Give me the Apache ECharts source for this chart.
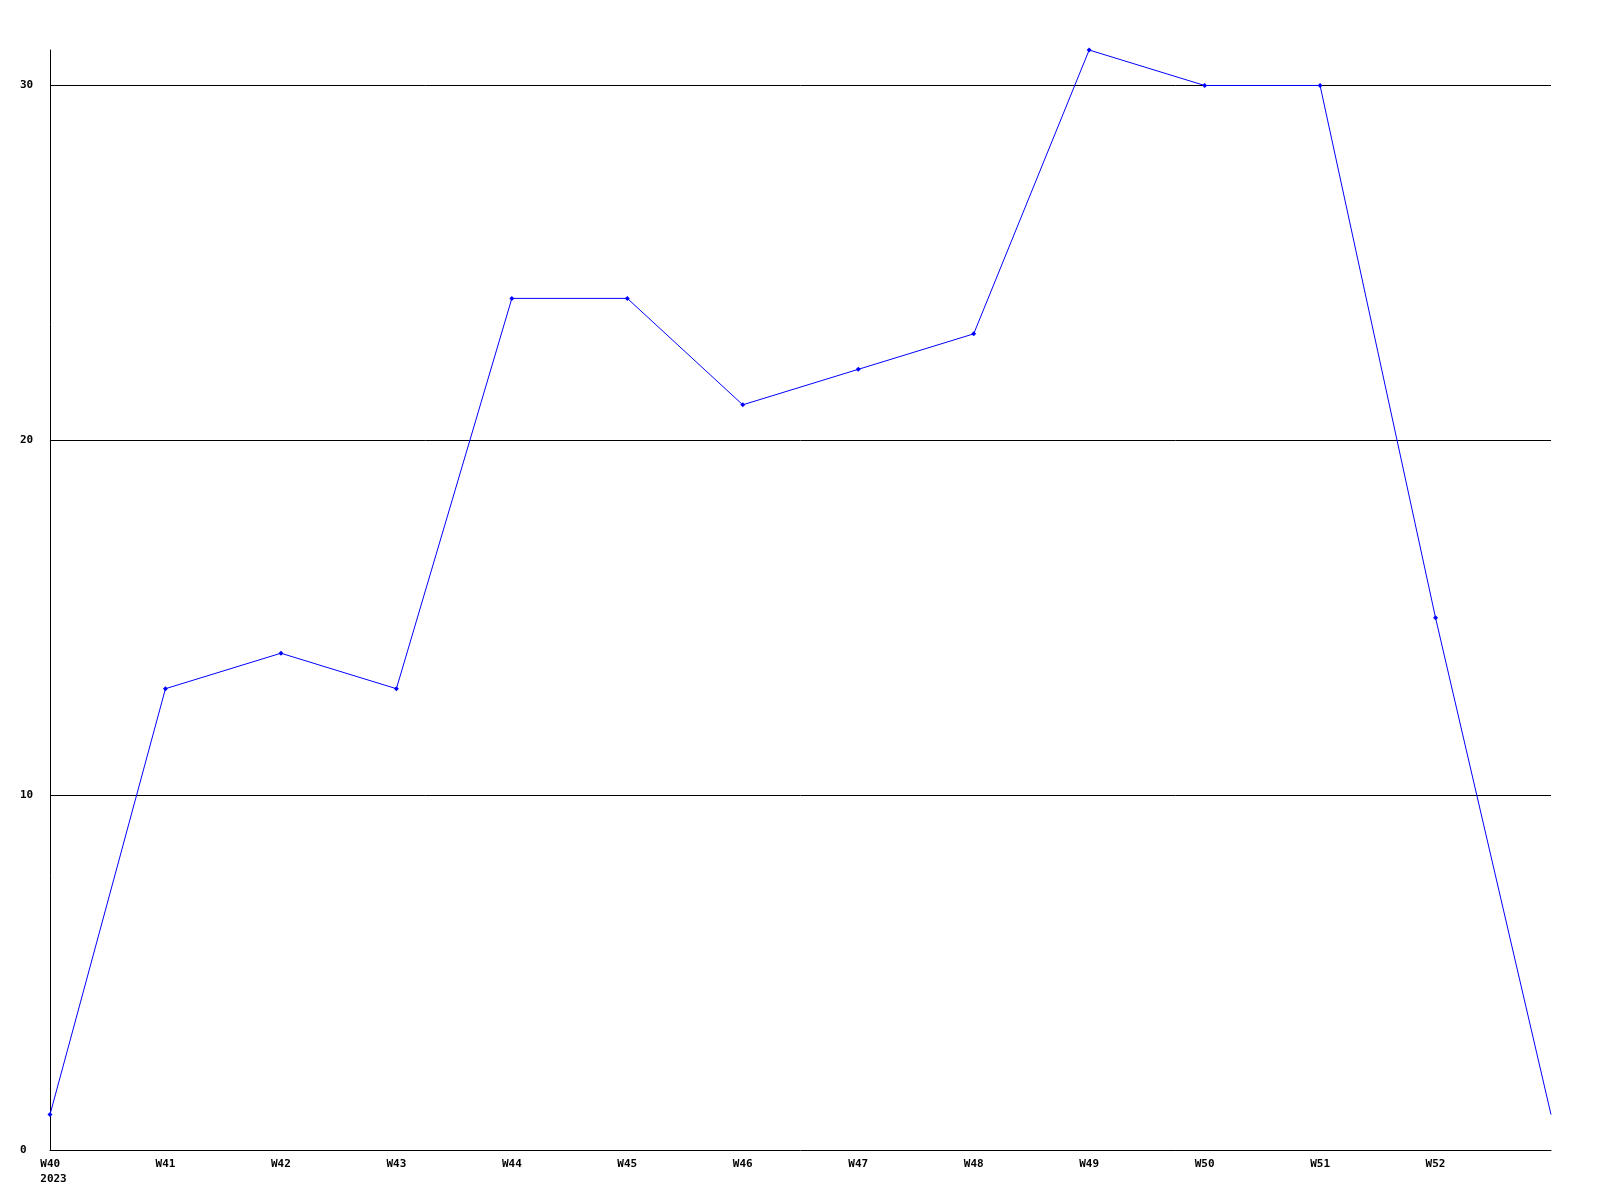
<!DOCTYPE html>
<html>
<head>
<meta charset="utf-8">
<script src="https://cdn.jsdelivr.net/npm/echarts@6/dist/echarts.min.js"></script>
<style>html,body{margin:0;padding:0;background:#fff}#c{width:1600px;height:1200px}</style>
</head>
<body>
<div id="c"></div>
<script>
const categories = ['W40','W41','W42','W43','W44','W45','W46','W47','W48','W49','W50','W51','W52',''];
const values = [1,13,14,13,24,24,21,22,23,31,30,30,15,1];
const yearLabel = '2023';
const yTicks = [0,10,20,30];
const gridLines = [10,20,30];

const seriesData = values.map(function (v, i) {
  return i === values.length - 1 ? {value: v, symbol: 'none'} : v;
});

const chart = echarts.init(document.getElementById('c'));
chart.setOption({
  animation: false,
  backgroundColor: '#ffffff',
  grid: {left: 50, right: 49, top: 50, bottom: 50, containLabel: false},
  xAxis: {
    type: 'category',
    data: categories,
    boundaryGap: false,
    axisLine: {lineStyle: {color: '#000', width: 1}},
    axisTick: {show: false},
    axisLabel: {
      interval: 0,
      margin: 7,
      fontFamily: 'DejaVu Sans Mono',
      fontWeight: 'bold',
      fontSize: 11,
      color: '#000',
      lineHeight: 15,
      formatter: function (v, i) { return i === 0 ? '{a|' + v + '}\n{a|' + yearLabel + '}' : v; },
      rich: {a: {align: 'left', padding: [0, 0, 0, 7], fontFamily: 'DejaVu Sans Mono', fontWeight: 'bold', fontSize: 11, color: '#000', lineHeight: 15}}
    },
    splitLine: {show: false}
  },
  yAxis: {
    type: 'value',
    min: 0,
    max: 31,
    interval: 10,
    axisLine: {show: true, lineStyle: {color: '#000', width: 1}},
    axisTick: {show: false},
    axisLabel: {
      margin: 30,
      align: 'left',
      fontFamily: 'DejaVu Sans Mono',
      fontWeight: 'bold',
      fontSize: 11,
      color: '#000',
      formatter: function (v) { return yTicks.indexOf(v) >= 0 ? String(v) : ''; }
    },
    splitLine: {show: false}
  },
  series: [{
    type: 'line',
    data: seriesData,
    lineStyle: {color: '#0000ff', width: 1},
    itemStyle: {color: '#0000ff'},
    symbol: 'diamond',
    symbolSize: 5,
    showAllSymbol: true,
    z: 3,
    markLine: {
      silent: true,
      symbol: ['none', 'none'],
      label: {show: false},
      lineStyle: {color: '#000', width: 1, type: 'solid'},
      z: 1,
      data: gridLines.map(function (y) { return {yAxis: y}; })
    }
  }]
});
</script>
</body>
</html>
